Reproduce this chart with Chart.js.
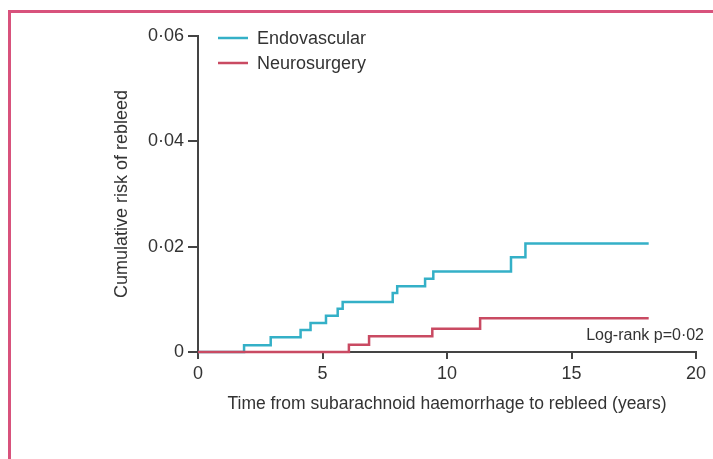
<!DOCTYPE html>
<html>
<head>
<meta charset="utf-8">
<script src="https://cdn.jsdelivr.net/npm/chart.js@4"></script>
<style>
  html, body { margin: 0; padding: 0; background: #fff; }
  #wrap { position: relative; width: 713px; height: 459px; }
  #frame { position: absolute; left: 8px; top: 10px; right: 0; bottom: 0;
           border-left: 3px solid #d8527c; border-top: 3px solid #d8527c; }
  canvas { position: absolute; left: 0; top: 0; }
</style>
</head>
<body>
<div id="wrap">
  <div id="frame"></div>
  <canvas id="myChart" width="713" height="459"></canvas>
</div>
<script>
// years from SAH, cumulative risk
var endoTimes = [0, 1.85, 2.92, 4.12, 4.52, 5.14, 5.61, 5.81, 7.82, 8.0, 9.12, 9.45, 12.57, 13.15, 18.1];
var endoRisk  = [0, 0.0013, 0.0028, 0.0042, 0.0055, 0.0069, 0.0082, 0.0095, 0.0112, 0.0125, 0.0139, 0.0153, 0.018, 0.0206, 0.0206];
var neuroTimes = [0, 6.06, 6.87, 9.41, 11.33, 18.1];
var neuroRisk  = [0, 0.0014, 0.003, 0.0044, 0.0064, 0.0064];

var groupLabels = ['Endovascular', 'Neurosurgery'];
var groupColors = ['#34b0c7', '#c94a62'];
var xTicks = [0, 5, 10, 15, 20];
var yTicks = [0, 0.02, 0.04, 0.06];
var pText = 'Log-rank p=0·02';

var fontFamily = "'Liberation Sans', Arial, sans-serif";
var textColor = '#333';
var axisColor = '#444';

function toPoints(xs, ys) {
  var pts = [];
  for (var i = 0; i < xs.length; i++) {
    pts.push({x: xs[i], y: ys[i]});
  }
  return pts;
}

function fmtRisk(v) {
  if (v === 0) return '0';
  return v.toFixed(2).replace('.', '·');
}

// legend drawn inside the plot area, top-left
var legendPlugin = {
  id: 'insideLegend',
  afterDraw: function (chart) {
    var ctx = chart.ctx;
    var a = chart.chartArea;
    ctx.save();
    ctx.font = '18px ' + fontFamily;
    ctx.textBaseline = 'middle';
    ctx.textAlign = 'left';
    for (var i = 0; i < groupLabels.length; i++) {
      var y = a.top + 2 + i * 25;
      ctx.strokeStyle = groupColors[i];
      ctx.lineWidth = 2.5;
      ctx.beginPath();
      ctx.moveTo(a.left + 20, y);
      ctx.lineTo(a.left + 50, y);
      ctx.stroke();
      ctx.fillStyle = textColor;
      ctx.fillText(groupLabels[i], a.left + 59, y + 1);
    }
    // log-rank note
    ctx.font = '16px ' + fontFamily;
    ctx.textAlign = 'right';
    ctx.fillText(pText, a.right + 8, a.bottom - 16);
    ctx.restore();
  }
};

var config = {
  type: 'line',
  data: {
    datasets: [{
      label: groupLabels[0],
      data: toPoints(endoTimes, endoRisk),
      borderColor: groupColors[0],
      borderWidth: 2.5,
      stepped: 'before',
      pointRadius: 0,
      fill: false,
      clip: false,
      order: 1
    }, {
      label: groupLabels[1],
      data: toPoints(neuroTimes, neuroRisk),
      borderColor: groupColors[1],
      borderWidth: 2.5,
      stepped: 'before',
      pointRadius: 0,
      fill: false,
      clip: false,
      order: 0
    }]
  },
  options: {
    responsive: false,
    animation: false,
    layout: { padding: { left: 0, right: 17, top: 36, bottom: 0 } },
    plugins: { legend: { display: false }, tooltip: { enabled: false } },
    scales: {
      x: {
        type: 'linear',
        min: 0, max: 20,
        afterBuildTicks: function (s) { s.ticks = xTicks.map(function (v) { return {value: v}; }); },
        afterFit: function (s) { s.height = 107; },
        ticks: { color: textColor, font: { family: fontFamily, size: 18 }, padding: 4,
                 callback: function (v) { return String(v); } },
        grid: { drawOnChartArea: false, drawTicks: true, tickLength: 7, color: axisColor, lineWidth: 2 },
        border: { display: true, color: axisColor, width: 2 },
        title: { display: true, text: 'Time from subarachnoid haemorrhage to rebleed (years)',
                 color: textColor, font: { family: fontFamily, size: 17.5 }, padding: { bottom: 44 } }
      },
      y: {
        type: 'linear',
        min: 0, max: 0.06,
        afterBuildTicks: function (s) { s.ticks = yTicks.map(function (v) { return {value: v}; }); },
        afterFit: function (s) { s.width = 198; },
        ticks: { color: textColor, font: { family: fontFamily, size: 18 }, padding: 4,
                 callback: function (v) { return fmtRisk(v); } },
        grid: { drawOnChartArea: false, drawTicks: true, tickLength: 10, color: axisColor, lineWidth: 2 },
        border: { display: true, color: axisColor, width: 2 },
        title: { display: true, text: 'Cumulative risk of rebleed',
                 color: textColor, font: { family: fontFamily, size: 18 }, padding: { top: 111 } }
      }
    }
  },
  plugins: [legendPlugin]
};

var ctx = document.getElementById('myChart').getContext('2d');
window.myLine = new Chart(ctx, config);
</script>
</body>
</html>
